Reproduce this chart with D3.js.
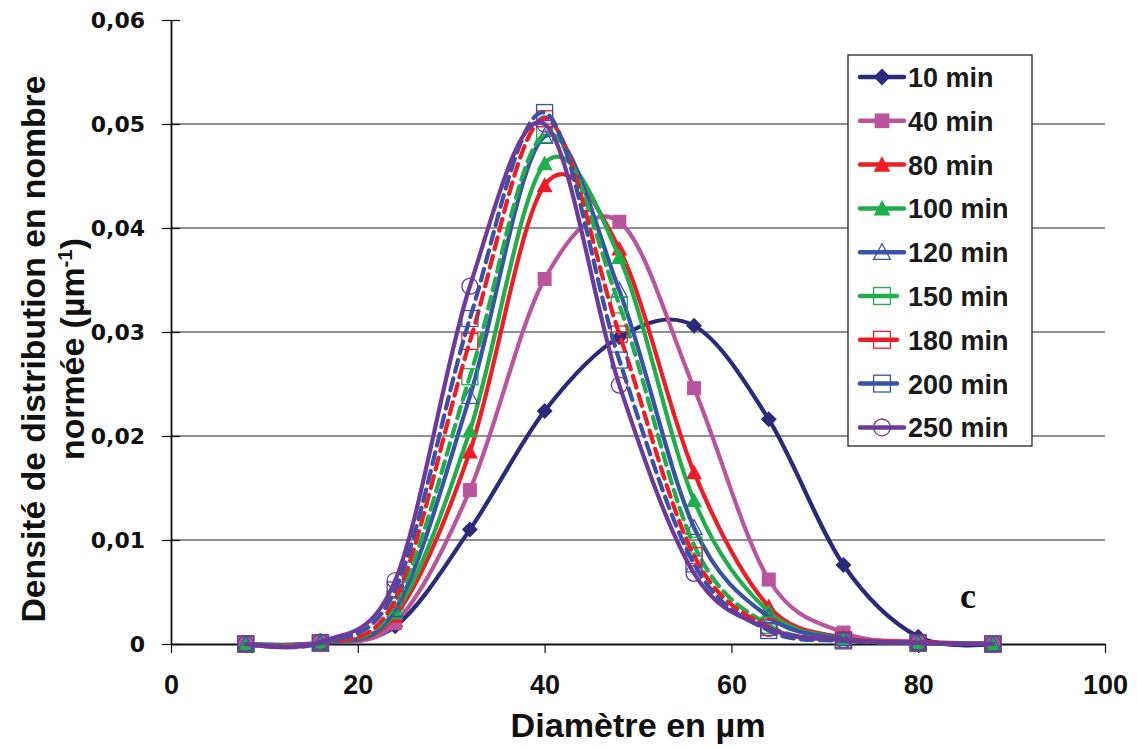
<!DOCTYPE html>
<html>
<head>
<meta charset="utf-8">
<script src="https://cdn.jsdelivr.net/npm/d3@7"></script>
<style>
  html, body { margin: 0; padding: 0; background: #fff; }
  svg { display: block; }
</style>
</head>
<body>
<svg id="chart" width="1137" height="747"></svg>
<script>
// ---- data ----
const diameters = [8, 16, 24, 32, 40, 48, 56, 64, 72, 80, 88];
const seriesNames = ["10 min", "40 min", "80 min", "100 min", "120 min", "150 min", "180 min", "200 min", "250 min"];
const s10  = [0, 0.0001, 0.0017, 0.0110, 0.0224, 0.0295, 0.0306, 0.0216, 0.0076, 0.0007, 0];
const s40  = [0, 0.0001, 0.0020, 0.0148, 0.0351, 0.0406, 0.0246, 0.0062, 0.0011, 0.0002, 0];
const s80  = [0, 0.0001, 0.0027, 0.0185, 0.0441, 0.0380, 0.0165, 0.0036, 0.0006, 0.0002, 0];
const s100 = [0, 0.0001, 0.0030, 0.0205, 0.0462, 0.0372, 0.0138, 0.0031, 0.0005, 0.0001, 0];
const s120 = [0, 0.0001, 0.0033, 0.0238, 0.0488, 0.0340, 0.0112, 0.0026, 0.0005, 0.0001, 0];
const s150 = [0, 0.0001, 0.0038, 0.0257, 0.0490, 0.0326, 0.0095, 0.0018, 0.0004, 0.0001, 0];
const s180 = [0, 0.0001, 0.0043, 0.0291, 0.0505, 0.0298, 0.0085, 0.0016, 0.0004, 0.0001, 0];
const s200 = [0, 0.0001, 0.0052, 0.0313, 0.0511, 0.0273, 0.0077, 0.0013, 0.0003, 0.0001, 0];
const s250 = [0, 0.0002, 0.0061, 0.0344, 0.0500, 0.0249, 0.0068, 0.0015, 0.0004, 0.0001, 0];
const seriesValues = [s10, s40, s80, s100, s120, s150, s180, s200, s250];
const xTicks = [0, 20, 40, 60, 80, 100];
const yTicks = [0, 0.01, 0.02, 0.03, 0.04, 0.05, 0.06];
const yTickLabels = ["0", "0,01", "0,02", "0,03", "0,04", "0,05", "0,06"];

// ---- styles ----
const styles = [
  { color: "#2b2a7a", marker: "diamond",  filled: true,  dash: null },
  { color: "#b9549f", marker: "square",   filled: true,  dash: null },
  { color: "#ee1d25", marker: "triangle", filled: true,  dash: null },
  { color: "#1fae4b", marker: "triangle", filled: true,  dash: null },
  { color: "#3953a4", marker: "triangle", filled: false, dash: null },
  { color: "#1fae4b", marker: "square",   filled: false, dash: "12,7" },
  { color: "#ee1d25", marker: "square",   filled: false, dash: "12,7" },
  { color: "#3953a4", marker: "square",   filled: false, dash: "12,7" },
  { color: "#6d3a9c", marker: "circle",   filled: false, dash: null }
];

const svg = d3.select("#chart");
const margin = { left: 171, right: 32, top: 20, bottom: 103 };
const W = 1137, H = 747;
const x = d3.scaleLinear().domain([0, 100]).range([margin.left, W - margin.right]);
const y = d3.scaleLinear().domain([0, 0.06]).range([H - margin.bottom, margin.top]);

// gridlines
svg.append("g").selectAll("line").data(yTicks.filter(t => t > 0 && t < 0.06)).join("line")
  .attr("x1", x(0)).attr("x2", x(100))
  .attr("y1", d => y(d)).attr("y2", d => y(d))
  .attr("stroke", "#222").attr("stroke-width", 1.2);

// axes
const fmtY = d => yTickLabels[yTicks.indexOf(d)];
const yAxis = d3.axisLeft(y).tickValues(yTicks).tickFormat(fmtY).tickSizeInner(9).tickSizeOuter(0).tickPadding(18);
const gy = svg.append("g").attr("transform", `translate(${x(0)},0)`).call(yAxis);
gy.select(".domain").attr("stroke", "#111").attr("stroke-width", 1.8);
gy.selectAll(".tick line").attr("x2", 18).attr("x1", 0).attr("transform", "translate(-9,0)").attr("stroke", "#111").attr("stroke-width", 1.2);
gy.selectAll(".tick text").attr("font-family", "'DejaVu Sans', sans-serif").attr("font-weight", "bold")
  .attr("font-size", 22).attr("fill", "#111").attr("x", -26);

const xAxis = d3.axisBottom(x).tickValues(xTicks).tickFormat(d => String(d)).tickSizeInner(9).tickSizeOuter(0).tickPadding(22);
const gx = svg.append("g").attr("transform", `translate(0,${y(0)})`).call(xAxis);
gx.select(".domain").attr("stroke", "#111").attr("stroke-width", 1.8);
gx.selectAll(".tick line").attr("stroke", "#111").attr("stroke-width", 1.2);
gx.selectAll(".tick text").attr("font-family", "'Liberation Sans Narrow', 'Liberation Sans', Arial, sans-serif")
  .attr("font-weight", "bold").attr("font-size", 27).attr("fill", "#111");

// axis titles
svg.append("text")
  .attr("x", 638).attr("y", 737)
  .attr("text-anchor", "middle")
  .attr("font-family", "'Liberation Sans Narrow', 'Liberation Sans', Arial, sans-serif")
  .attr("font-weight", "bold").attr("font-size", 34).attr("fill", "#111")
  .attr("textLength", 255).attr("lengthAdjust", "spacingAndGlyphs")
  .text("Diamètre en µm");

const yt = svg.append("g").attr("transform", "translate(0,349) rotate(-90)");
yt.append("text")
  .attr("x", 0).attr("y", 45)
  .attr("text-anchor", "middle")
  .attr("font-family", "'Liberation Sans Narrow', 'Liberation Sans', Arial, sans-serif")
  .attr("font-weight", "bold").attr("font-size", 33).attr("fill", "#111")
  .attr("textLength", 547).attr("lengthAdjust", "spacingAndGlyphs")
  .text("Densité de distribution en nombre");
const l2 = yt.append("text")
  .attr("x", 0).attr("y", 84)
  .attr("text-anchor", "middle")
  .attr("font-family", "'Liberation Sans Narrow', 'Liberation Sans', Arial, sans-serif")
  .attr("font-weight", "bold").attr("font-size", 33).attr("fill", "#111")
  .attr("textLength", 222).attr("lengthAdjust", "spacingAndGlyphs");
l2.append("tspan").text("normée (µm");
l2.append("tspan").attr("dy", -12).attr("font-size", 20).text("-1");
l2.append("tspan").attr("dy", 12).text(")");

// markers
function drawMarker(g, type, cx, cy, st, scale) {
  const s = scale || 1;
  const fill = st.filled ? st.color : "none";
  const sw = st.filled ? 0 : 1.3;
  if (type === "diamond") {
    const r = 8 * s;
    g.append("path").attr("d", `M${cx},${cy - r}L${cx + r},${cy}L${cx},${cy + r}L${cx - r},${cy}Z`)
      .attr("fill", fill).attr("stroke", st.color).attr("stroke-width", sw);
  } else if (type === "square") {
    const h = (st.filled ? 7 : 8) * s;
    g.append("rect").attr("x", cx - h).attr("y", cy - h).attr("width", 2 * h).attr("height", 2 * h)
      .attr("fill", fill).attr("stroke", st.color).attr("stroke-width", sw);
  } else if (type === "triangle") {
    const h = 8 * s;
    g.append("path").attr("d", `M${cx},${cy - h}L${cx + h},${cy + h * 0.85}L${cx - h},${cy + h * 0.85}Z`)
      .attr("fill", fill).attr("stroke", st.color).attr("stroke-width", sw);
  } else if (type === "circle") {
    g.append("circle").attr("cx", cx).attr("cy", cy).attr("r", 8 * s)
      .attr("fill", fill).attr("stroke", st.color).attr("stroke-width", sw);
  }
}

const line = d3.line().x(d => x(d[0])).y(d => y(d[1])).curve(d3.curveCardinal.tension(0));
const plot = svg.append("g");
seriesValues.forEach((vals, i) => {
  const st = styles[i];
  const pts = diameters.map((d, j) => [d, vals[j]]);
  const g = plot.append("g");
  g.append("path").datum(pts).attr("d", line)
    .attr("fill", "none").attr("stroke", st.color).attr("stroke-width", 4.2)
    .attr("stroke-linecap", st.dash ? "round" : "butt")
    .attr("stroke-dasharray", st.dash);
  pts.forEach(p => drawMarker(g, st.marker, x(p[0]), y(p[1]), st, 1));
});

// legend
const lg = svg.append("g");
lg.append("rect").attr("x", 848).attr("y", 55).attr("width", 184).attr("height", 391)
  .attr("fill", "#fff").attr("stroke", "#222").attr("stroke-width", 1.3);
const rowY = [77, 120.8, 164.6, 208.4, 252.2, 296, 339.8, 383.6, 427.4];
seriesNames.forEach((name, i) => {
  const st = styles[i];
  const cy = rowY[i];
  const g = lg.append("g");
  g.append("line").attr("x1", 860).attr("x2", st.dash ? 897 : 904).attr("y1", cy).attr("y2", cy)
    .attr("stroke", st.color).attr("stroke-width", 4.5).attr("stroke-linecap", "round");
  drawMarker(g, st.marker, 882, cy, st, 1.05);
  g.append("text").attr("x", 908).attr("y", cy + 10)
    .attr("font-family", "'Liberation Sans', Arial, sans-serif").attr("font-weight", "bold")
    .attr("font-size", 27).attr("fill", "#1a1a1a").text(name);
});

// panel label
svg.append("text").attr("x", 968).attr("y", 608).attr("text-anchor", "middle")
  .attr("font-family", "'Liberation Serif', 'Times New Roman', serif").attr("font-weight", "bold")
  .attr("font-size", 36).attr("fill", "#111").text("c");
</script>
</body>
</html>
